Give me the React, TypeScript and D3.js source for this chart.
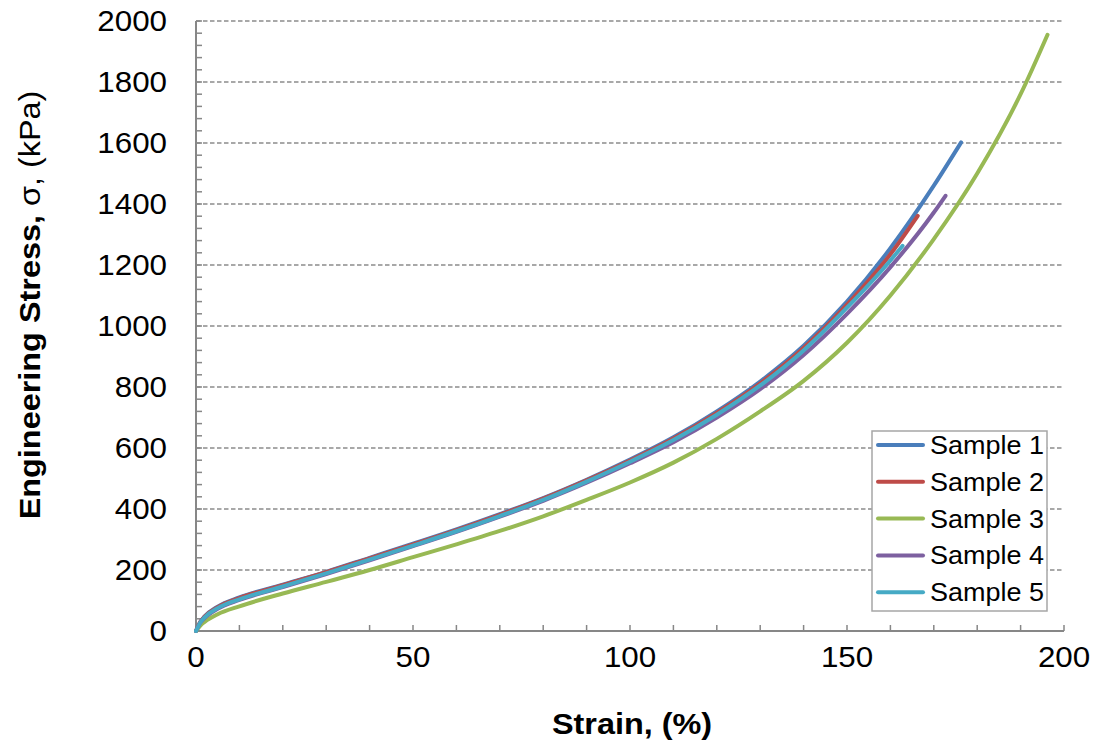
import React from "react";
import * as d3 from "d3";

// Strain (%) sampled points and engineering stress (kPa) for each specimen
const strain1 = [0, 1, 2, 5, 10, 20, 30, 40, 50, 60, 70, 80, 90, 100, 110, 120, 130, 140, 150, 160, 170, 176.3];
const stress1 = [0, 30, 48, 80, 110, 152, 194, 240, 286, 333, 383, 436, 496, 562, 635, 720, 818, 935, 1080, 1255, 1460, 1602];

const strain2 = [0, 1, 2, 5, 10, 20, 30, 40, 50, 60, 70, 80, 90, 100, 110, 120, 130, 140, 150, 160, 166.3];
const stress2 = [0, 29, 47, 78, 108, 150, 193, 238, 284, 331, 381, 434, 494, 559, 631, 715, 812, 928, 1070, 1235, 1361];

const strain3 = [0, 1, 2, 5, 10, 20, 30, 40, 50, 60, 70, 80, 90, 100, 110, 120, 130, 140, 150, 160, 170, 180, 190, 196.2];
const stress3 = [0, 18, 30, 55, 81, 123, 161, 200, 242, 284, 328, 376, 430, 487, 552, 630, 720, 820, 945, 1100, 1285, 1500, 1760, 1955];

const strain4 = [0, 1, 2, 5, 10, 20, 30, 40, 50, 60, 70, 80, 90, 100, 110, 120, 130, 140, 150, 160, 170, 172.7];
const stress4 = [0, 27, 43, 73, 102, 144, 187, 232, 278, 325, 375, 427, 486, 550, 619, 700, 793, 905, 1040, 1193, 1372, 1427];

const strain5 = [0, 1, 2, 5, 10, 20, 30, 40, 50, 60, 70, 80, 90, 100, 110, 120, 130, 140, 150, 160, 162.8];
const stress5 = [0, 28, 45, 75, 104, 146, 189, 234, 280, 327, 377, 430, 490, 555, 626, 709, 805, 920, 1060, 1215, 1263];

const seriesNames = ["Sample 1", "Sample 2", "Sample 3", "Sample 4", "Sample 5"];
const seriesColors = ["#4a7ebb", "#be4b48", "#98b954", "#7d60a0", "#46aac5"];

const xTicks = [0, 50, 100, 150, 200];
const yTicks = [0, 200, 400, 600, 800, 1000, 1200, 1400, 1600, 1800, 2000];

const W = 1101;
const H = 747;
const left = 196;
const right = 1064;
const top = 21;
const bottom = 631;
const stretch = 1.08;

export default function App() {
  const x = d3.scaleLinear().domain([0, 200]).range([left, right]);
  const y = d3.scaleLinear().domain([0, 2000]).range([bottom, top]);

  const series = [
    d3.zip(strain1, stress1),
    d3.zip(strain2, stress2),
    d3.zip(strain3, stress3),
    d3.zip(strain4, stress4),
    d3.zip(strain5, stress5),
  ];

  const line = d3
    .line<number[]>()
    .x((d) => x(d[0]))
    .y((d) => y(d[1]))
    .curve(d3.curveMonotoneX);

  const xMinor = d3.range(0, 201, 10);
  const yMinor = d3.range(0, 2001, 40);

  const font = "'Liberation Sans', Arial, sans-serif";
  const axisColor = "#878787";

  const legendX = 872;
  const legendY = 431;
  const legendW = 175;
  const legendH = 180;
  const rowH = 36.8;

  return (
    <svg
      width={W}
      height={H}
      style={{ position: "absolute", left: 0, top: 0, background: "#fff" }}
      fontFamily={font}
    >
      {/* horizontal dashed gridlines */}
      {yTicks.slice(1).map((t) => (
        <line
          key={"g" + t}
          x1={left}
          x2={right}
          y1={y(t)}
          y2={y(t)}
          stroke="#8c8c8c"
          strokeWidth={1.3}
          strokeDasharray="4.5,2.5"
        />
      ))}

      {/* minor ticks on the y axis */}
      {yMinor.map((t) => (
        <line key={"ym" + t} x1={left} x2={left + 6} y1={y(t)} y2={y(t)} stroke={axisColor} strokeWidth={1.5} />
      ))}
      {/* minor ticks on the x axis */}
      {xMinor.map((t) => (
        <line key={"xm" + t} x1={x(t)} x2={x(t)} y1={bottom} y2={bottom - 6} stroke={axisColor} strokeWidth={1.5} />
      ))}

      {/* axis lines */}
      <line x1={left} x2={left} y1={top} y2={bottom} stroke={axisColor} strokeWidth={2} />
      <line x1={left} x2={right} y1={bottom} y2={bottom} stroke={axisColor} strokeWidth={2} />

      {/* y tick labels */}
      {yTicks.map((t) => (
        <text
          key={"yl" + t}
          transform={`translate(167, ${y(t)}) scale(${stretch}, 1)`}
          dy="0.36em"
          textAnchor="end"
          fontSize={29}
          fill="#000"
        >
          {t}
        </text>
      ))}
      {/* x tick labels */}
      {xTicks.map((t) => (
        <text
          key={"xl" + t}
          transform={`translate(${x(t)}, 667) scale(${stretch}, 1)`}
          textAnchor="middle"
          fontSize={29}
          fill="#000"
        >
          {t}
        </text>
      ))}

      {/* data curves */}
      {series.map((s, i) => (
        <path
          key={"s" + i}
          d={line(s) || ""}
          fill="none"
          stroke={seriesColors[i]}
          strokeWidth={4}
          strokeLinecap="round"
          strokeLinejoin="round"
        />
      ))}

      {/* legend */}
      <rect x={legendX} y={legendY} width={legendW} height={legendH} fill="#fff" stroke="#a6a6a6" strokeWidth={1.5} />
      {seriesNames.map((n, i) => {
        const cy = legendY + 14 + i * rowH;
        return (
          <g key={"lg" + i}>
            <line x1={878} x2={923} y1={cy} y2={cy} stroke={seriesColors[i]} strokeWidth={4} strokeLinecap="round" />
            <text transform={`translate(930, ${cy}) scale(${stretch}, 1)`} dy="0.36em" fontSize={25} fill="#000">
              {n}
            </text>
          </g>
        );
      })}

      {/* axis titles */}
      <text
        transform={`translate(632, 734) scale(${stretch}, 1)`}
        textAnchor="middle"
        fontSize={30}
        fontWeight="bold"
        fill="#000"
      >
        Strain, (%)
      </text>
      <text
        transform={`translate(40, 305) rotate(-90) scale(${stretch}, 1)`}
        textAnchor="middle"
        fontSize={30}
        fill="#000"
      >
        <tspan fontWeight="bold">Engineering Stress, </tspan>
        <tspan>σ, (kPa)</tspan>
      </text>
    </svg>
  );
}
